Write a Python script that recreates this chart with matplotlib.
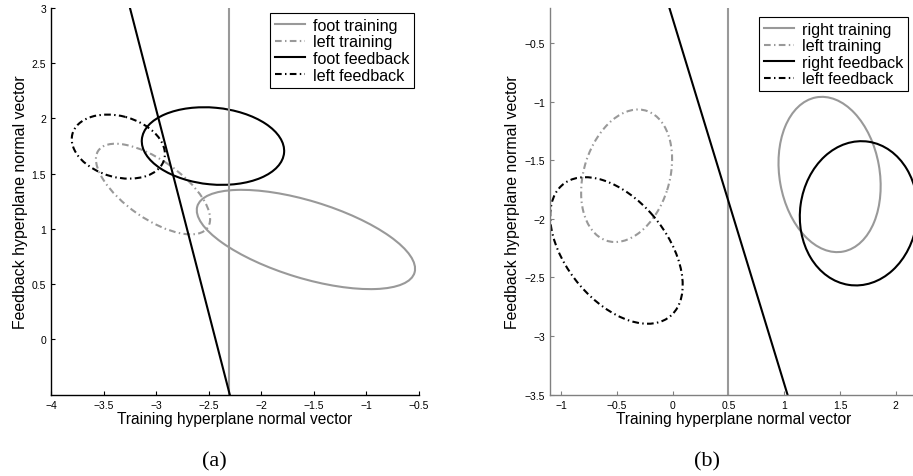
import numpy as np
import matplotlib
matplotlib.use("Agg")
import matplotlib.pyplot as plt
from matplotlib.patches import Ellipse
from matplotlib.lines import Line2D

plt.rcParams['font.family'] = ['Liberation Sans', 'DejaVu Sans']

# --- panel (a): foot vs left ---
a_labels = ['foot training', 'left training', 'foot feedback', 'left feedback']
a_cx = [-1.576, -3.03, -2.46, -3.36]
a_cy = [0.904, 1.36, 1.749, 1.744]
a_sx = [1.038, 0.543, 0.677, 0.443]     # half extent along x
a_sy = [0.449, 0.41, 0.351, 0.29]       # half extent along y
a_sxy = [-0.275, -0.147, -0.03, -0.03]  # covariance term
a_train_x = -2.31
a_feed_x = [-3.25, -2.30]
a_feed_y = [3.0, -0.5]
a_xticks = [-4, -3.5, -3, -2.5, -2, -1.5, -1, -0.5]
a_yticks = [0, 0.5, 1, 1.5, 2, 2.5, 3]

# --- panel (b): right vs left ---
b_labels = ['right training', 'left training', 'right feedback', 'left feedback']
b_cx = [1.407, -0.413, 1.668, -0.504]
b_cy = [-1.622, -1.633, -1.953, -2.27]
b_sx = [0.458, 0.408, 0.528, 0.594]
b_sy = [0.662, 0.565, 0.615, 0.625]
b_sxy = [-0.045, 0.058, 0.015, -0.175]
b_train_x = 0.5
b_feed_x = [-0.03, 1.03]
b_feed_y = [-0.2, -3.5]
b_xticks = [-1, -0.5, 0, 0.5, 1, 1.5, 2]
b_yticks = [-3.5, -3, -2.5, -2, -1.5, -1, -0.5]

GRAY = '#999999'
DASHDOT = (0, (3.2, 1.6, 0.7, 1.6))
styles = [(GRAY, '-'), (GRAY, DASHDOT), ('black', '-'), ('black', DASHDOT)]


def fmt(v):
    return ('%g' % v).replace('-', '\u2212')


def draw_panel(ax, labels, cx, cy, sx, sy, sxy, train_x, feed_x, feed_y,
               xticks, yticks, xlim, ylim, spine_color, leg_anchor):
    for i in range(len(labels)):
        cov = np.array([[sx[i] ** 2, sxy[i]], [sxy[i], sy[i] ** 2]])
        vals, vecs = np.linalg.eigh(cov)
        ang = np.degrees(np.arctan2(vecs[1, 1], vecs[0, 1]))
        col, ls = styles[i]
        ax.add_patch(Ellipse((cx[i], cy[i]), 2 * np.sqrt(vals[1]), 2 * np.sqrt(vals[0]),
                             angle=ang, fill=False, edgecolor=col, linestyle=ls, lw=1.5))
    ax.axvline(train_x, color=GRAY, lw=1.5)
    ax.plot(feed_x, feed_y, color='black', lw=1.5)
    ax.set_xlim(xlim)
    ax.set_ylim(ylim)
    ax.set_xticks(xticks)
    ax.set_xticklabels([fmt(v) for v in xticks])
    ax.set_yticks(yticks)
    ax.set_yticklabels([fmt(v) for v in yticks])
    ax.tick_params(direction='in', length=3, labelsize=7.5, color=spine_color, pad=3.5)
    for s in ['top', 'right']:
        ax.spines[s].set_visible(False)
    for s in ['left', 'bottom']:
        ax.spines[s].set_color(spine_color)
        ax.spines[s].set_linewidth(1.0)
    ax.set_xlabel('Training hyperplane normal vector', fontsize=11.2, labelpad=1)
    ax.set_ylabel('Feedback hyperplane normal vector', fontsize=11.4, labelpad=3)
    handles = [Line2D([], [], color=c, linestyle=l, lw=1.5) for c, l in styles]
    leg = ax.legend(handles, labels, loc='upper right', bbox_to_anchor=leg_anchor,
                    fontsize=11.6, frameon=True, fancybox=False, edgecolor='black',
                    framealpha=1, borderpad=0.3, labelspacing=0.1, handlelength=1.85,
                    handletextpad=0.5, borderaxespad=0)
    leg.get_frame().set_linewidth(0.8)


fig = plt.figure(figsize=(9.13, 4.77), dpi=100)
ax1 = fig.add_axes([0.0559, 0.1704, 0.4031, 0.8113])
ax2 = fig.add_axes([0.6024, 0.1704, 0.4031, 0.8113])

draw_panel(ax1, a_labels, a_cx, a_cy, a_sx, a_sy, a_sxy, a_train_x, a_feed_x, a_feed_y,
           a_xticks, a_yticks, (-4, -0.5), (-0.5, 3), 'black', (0.9864, 0.9863))
draw_panel(ax2, b_labels, b_cx, b_cy, b_sx, b_sy, b_sxy, b_train_x, b_feed_x, b_feed_y,
           b_xticks, b_yticks, (-1.1, 2.2), (-3.5, -0.2), '#808080', (0.9728, 0.9767))

fig.text(0.2344, 0.032, '(a)', family='Liberation Serif', fontsize=16, ha='center', va='center')
fig.text(0.774, 0.032, '(b)', family='Liberation Serif', fontsize=16, ha='center', va='center')

fig.savefig('out.png', dpi=100)
